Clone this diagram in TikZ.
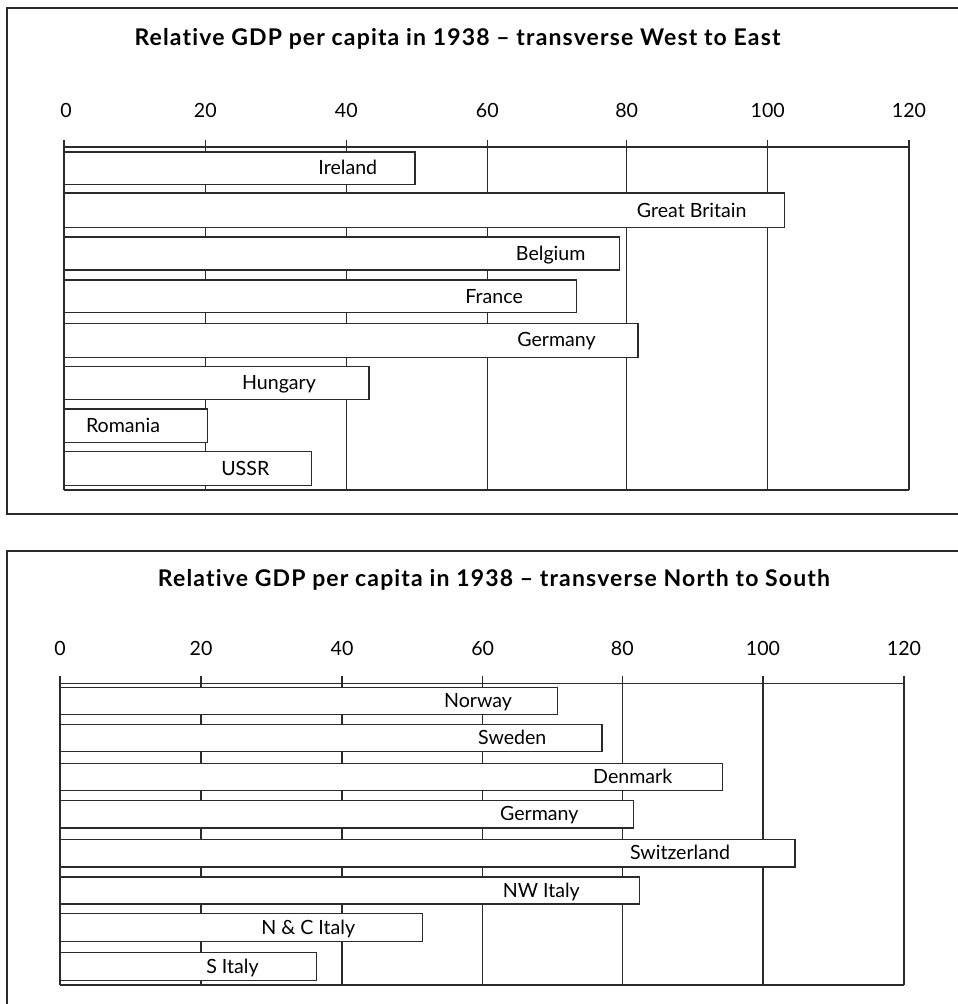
\documentclass[tikz,border=0pt]{standalone}
\usepackage{fontspec}
\setmainfont{Lato}[Ligatures={TeX,NoCommon}]
\newfontfamily\titlefont{Lato}[Ligatures={TeX,NoCommon},LetterSpace=5]
\definecolor{linec}{HTML}{2B2B2B}
\begin{document}
\begin{tikzpicture}[x=1pt,y=-1pt]
\tikzset{
  frame/.style={draw=linec, line width=1.7pt},
  gridline/.style={draw=linec, line width=1.4pt},
  barbox/.style={draw=linec, fill=white, line width=1.4pt},
  lbl/.style={font=\fontsize{19.6}{22}\selectfont, inner sep=0pt, anchor=base, text=black},
  ttl/.style={font=\titlefont\bfseries\fontsize{23}{27}\selectfont, inner sep=0pt, anchor=base, text=black}
}
\useasboundingbox (0,0) rectangle (958,1004);
\clip (0,0) rectangle (958,1004);
% ---------- frames
\draw[frame] (7,8) rectangle (980,514);
\draw[frame] (7,551) rectangle (980,1030);

% ---------- top panel
\node[ttl] (titleA) at (457.5,45.3) {Relative GDP per capita in 1938 – transverse West to East};
\foreach \x in {64,205.3,346.3,487.3,626.7,767.7,909}
  \draw[gridline] (\x,140) -- (\x,490);
\draw[gridline] (64,147) -- (909,147);
\draw[gridline] (64,490) -- (909,490);
\foreach \x/\v/\n in {66/0/a0,205.3/20/a20,346.3/40/a40,487.3/60/a60,626.7/80/a80,767.7/100/a100,909/120/a120}
  \node[lbl] (\n) at (\x,117.3) {\v};
\foreach \t/\b/\r in {152/184.3/415, 193/227.7/784.3, 237/270/619.3, 280/312.7/576.7,
                      323.3/357.3/638, 366.7/399.3/369, 409/442.7/207.7, 451.7/485.7/311.7}
  \draw[barbox] (64,\t) rectangle (\r,\b);
\node[lbl] (ireland)  at (347.8,174.6) {Ireland};
\node[lbl] (britain)  at (691.7,217.0) {Great Britain};
\node[lbl] (belgium)  at (550.7,260.0) {Belgium};
\node[lbl] (france)   at (494.2,303.0) {France};
\node[lbl] (germanyA) at (556.5,346.8) {Germany};
\node[lbl] (hungary)  at (279.0,389.5) {Hungary};
\node[lbl] (romania)  at (123.0,432.3) {Romania};
\node[lbl] (ussr)     at (245.3,475.2) {USSR};

% ---------- bottom panel
\node[ttl] (titleB) at (494,586) {Relative GDP per capita in 1938 – transverse North to South};
\foreach \x in {60,201,342,482.7,622.3,763,904}
  \draw[gridline] (\x,675.7) -- (\x,985);
\draw[gridline] (60,683.3) -- (904,683.3);
\draw[gridline] (60,985) -- (904,985);
\foreach \x/\v/\n in {60/0/b0,201/20/b20,342/40/b40,482.7/60/b60,622.3/80/b80,763/100/b100,904/120/b120}
  \node[lbl] (\n) at (\x,655) {\v};
\foreach \t/\b/\r in {687.3/714.7/557.3, 724.3/751.7/602, 763.3/790.7/722.3, 800.7/828/633.7,
                      839.7/867/795, 877/904/639.3, 913.7/941.3/422.3, 952.7/980.3/316.3}
  \draw[barbox] (60,\t) rectangle (\r,\b);
\node[lbl] (norway)   at (478.0,707.5) {Norway};
\node[lbl] (sweden)   at (512.3,744.5) {Sweden};
\node[lbl] (denmark)  at (632.7,783.5) {Denmark};
\node[lbl] (germanyB) at (539.3,820.8) {Germany};
\node[lbl] (swiss)    at (680.0,859.8) {Switzerland};
\node[lbl] (nwitaly)  at (541.3,897.0) {NW Italy};
\node[lbl] (ncitaly)  at (308.3,934.0) {N \& C Italy};
\node[lbl] (sitaly)   at (232.5,973.0) {S Italy};
\end{tikzpicture}
\end{document}
